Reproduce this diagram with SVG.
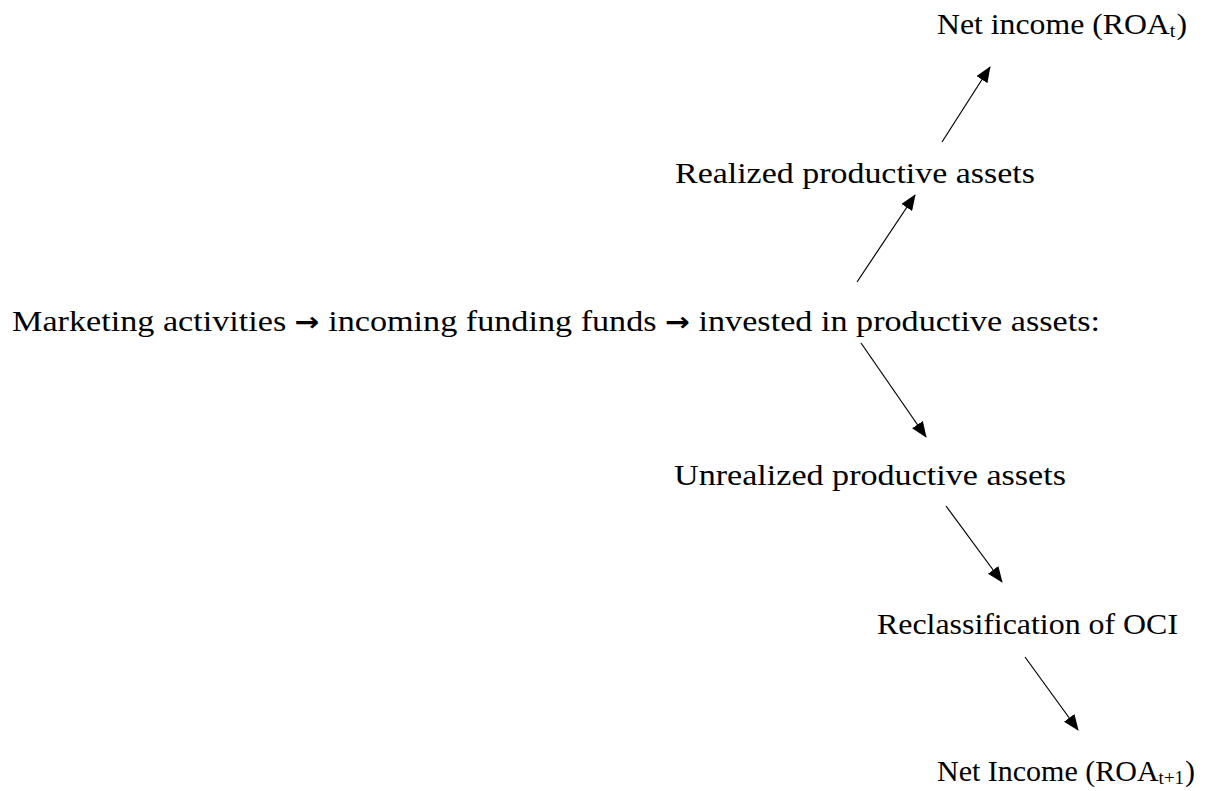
<svg xmlns="http://www.w3.org/2000/svg" width="1225" height="791" viewBox="0 0 1225 791">
  <style>
    .lbl { font-family: "Liberation Serif", "DejaVu Serif", serif; font-size: 30px; fill: #000; }
    .sub { font-size: 19px; }
    .sym { font-family: "DejaVu Sans", sans-serif; font-weight: bold; font-size: 26px; }
    .conn { stroke: #000; stroke-width: 1.2; fill: none; marker-end: url(#head); }
  </style>
  <defs>
    <marker id="head" viewBox="0 0 16 13" refX="15" refY="6.5" markerWidth="16" markerHeight="13" markerUnits="userSpaceOnUse" orient="auto">
      <path d="M0,0 L16,6.5 L0,13 Z" fill="#000"/>
    </marker>
  </defs>
  <rect width="1225" height="791" fill="#fff"/>

  <!-- period t outcome -->
  <g id="net-income-t">
    <text class="lbl" x="937" y="34" textLength="250" lengthAdjust="spacingAndGlyphs">Net income (ROA<tspan class="sub" dy="3">t</tspan><tspan dy="-3" dx="1">)</tspan></text>
  </g>
  <g id="realized">
    <text class="lbl" x="675" y="183" textLength="360" lengthAdjust="spacingAndGlyphs">Realized productive assets</text>
  </g>
  <!-- main chain, arrows set inline -->
  <g id="chain">
    <text class="lbl" x="12" y="331" textLength="1088" lengthAdjust="spacingAndGlyphs">Marketing activities <tspan class="sym">→</tspan> incoming funding funds <tspan class="sym">→</tspan> invested in productive assets:</text>
  </g>
  <g id="unrealized">
    <text class="lbl" x="674" y="485" textLength="392" lengthAdjust="spacingAndGlyphs">Unrealized productive assets</text>
  </g>
  <g id="reclassification">
    <text class="lbl" x="877" y="634" textLength="301" lengthAdjust="spacingAndGlyphs">Reclassification of OCI</text>
  </g>
  <!-- period t+1 outcome -->
  <g id="net-income-t1">
    <text class="lbl" x="937" y="781">Net Income (ROA<tspan class="sub" dy="3">t+1</tspan><tspan dy="-3" dx="1">)</tspan></text>
  </g>

  <g id="connectors">
    <line class="conn" x1="942" y1="142" x2="990" y2="67"/>
    <line class="conn" x1="857" y1="282" x2="915" y2="195"/>
    <line class="conn" x1="861" y1="343" x2="926" y2="437"/>
    <line class="conn" x1="946" y1="506" x2="1002" y2="582"/>
    <line class="conn" x1="1025" y1="657" x2="1078" y2="730"/>
  </g>
</svg>
